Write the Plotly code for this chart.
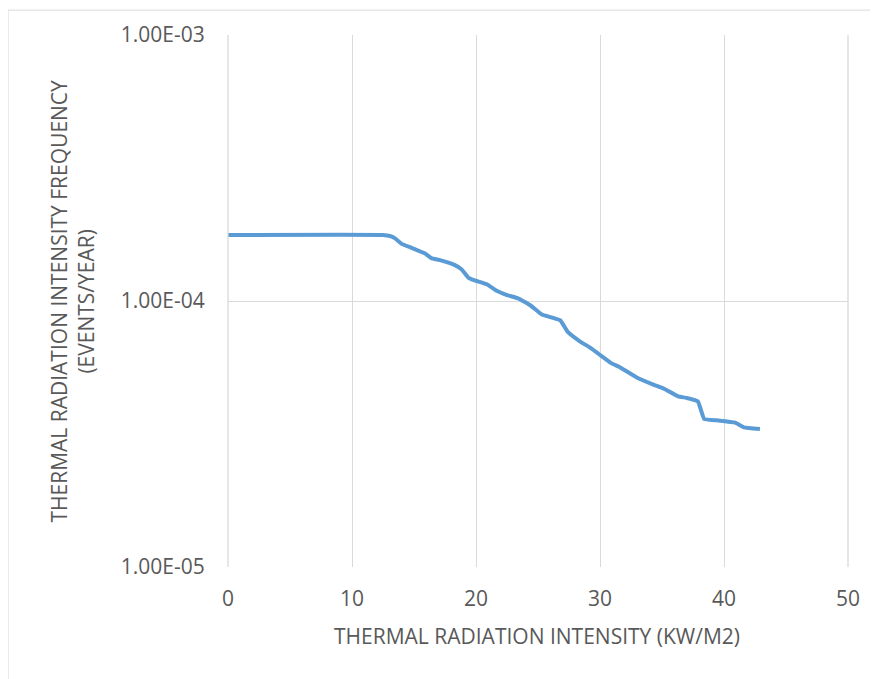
import plotly.graph_objects as go

intensity = [0, 12.5, 13.06, 13.47, 14.0, 14.8, 15.9, 16.4, 17.1, 18.3, 18.85, 19.4, 19.9, 20.9,
             21.7, 22.5, 23.4, 24.4, 25.3, 26.8, 27.4, 28.4, 29.2, 29.9, 30.9, 31.5, 32.96,
             34.3, 35.2, 36.3, 37.0, 37.9, 38.4, 39.4, 40.9, 41.6, 42.9]
frequency = [1.77e-4, 1.77e-4, 1.755e-4, 1.72e-4, 1.64e-4, 1.585e-4, 1.508e-4, 1.45e-4, 1.424e-4,
             1.364e-4, 1.314e-4, 1.222e-4, 1.195e-4, 1.154e-4, 1.09e-4, 1.053e-4, 1.023e-4,
             9.62e-5, 8.9e-5, 8.46e-5, 7.65e-5, 7.04e-5, 6.68e-5, 6.32e-5, 5.84e-5, 5.67e-5,
             5.16e-5, 4.85e-5, 4.67e-5, 4.38e-5, 4.32e-5, 4.19e-5, 3.6e-5, 3.56e-5, 3.49e-5,
             3.35e-5, 3.30e-5]

y_tickvals = [1e-5, 1e-4, 1e-3]
y_ticktext = ["1.00E-05", "1.00E-04", "1.00E-03"]
x_tickvals = [0, 10, 20, 30, 40, 50]
x_title = "THERMAL RADIATION INTENSITY (KW/M2)"
y_title = "THERMAL RADIATION INTENSITY FREQUENCY<br>(EVENTS/YEAR)"

font_family = "Open Sans, sans-serif"
txt_color = "#595959"
fs = 21

fig = go.Figure()
fig.add_trace(go.Scatter(
    x=intensity, y=frequency, mode="lines",
    line=dict(color="#5b9bd5", width=4, shape="spline", smoothing=0.3),
    showlegend=False, hoverinfo="x+y",
))

fig.update_layout(
    width=870, height=671,
    margin=dict(l=220, r=30, t=25, b=112),
    paper_bgcolor="white", plot_bgcolor="white",
    font=dict(family=font_family, color=txt_color, size=fs),
    xaxis=dict(
        range=[0, 50], tickvals=x_tickvals, showgrid=True, gridcolor="#d9d9d9", gridwidth=1.3,
        zeroline=False, showline=False, ticks="outside", ticklen=13, tickcolor="rgba(0,0,0,0)",
        tickfont=dict(size=fs, color=txt_color),
    ),
    yaxis=dict(
        type="log", range=[-5, -3], tickvals=y_tickvals, ticktext=y_ticktext,
        showgrid=True, gridcolor="#d9d9d9", gridwidth=1.3, zeroline=False, showline=False,
        ticks="outside", ticklen=18, tickcolor="rgba(0,0,0,0)",
        tickfont=dict(size=fs, color=txt_color),
    ),
    annotations=[
        dict(text=x_title, xref="paper", yref="paper", x=0.4976, y=-0.1292,
             xanchor="center", yanchor="middle", showarrow=False,
             font=dict(size=fs, color=txt_color)),
        dict(text=y_title, xref="paper", yref="paper", x=-0.2524, y=0.5,
             xanchor="center", yanchor="middle", showarrow=False, textangle=-90,
             font=dict(size=fs, color=txt_color)),
    ],
    shapes=[
        dict(type="line", xref="paper", yref="paper", x0=0, x1=0, y0=0, y1=1,
             line=dict(color="#d9d9d9", width=1.3)),
        dict(type="line", xref="paper", yref="paper", x0=1, x1=1, y0=0, y1=1,
             line=dict(color="#d9d9d9", width=1.3)),
        dict(type="rect", xref="paper", yref="paper", x0=-0.3548, x1=1.0468, y0=-0.25, y1=1.0468,
             line=dict(color="#d9d9d9", width=1), fillcolor="rgba(0,0,0,0)", layer="below"),
    ],
)

fig.write_html("out.html")
